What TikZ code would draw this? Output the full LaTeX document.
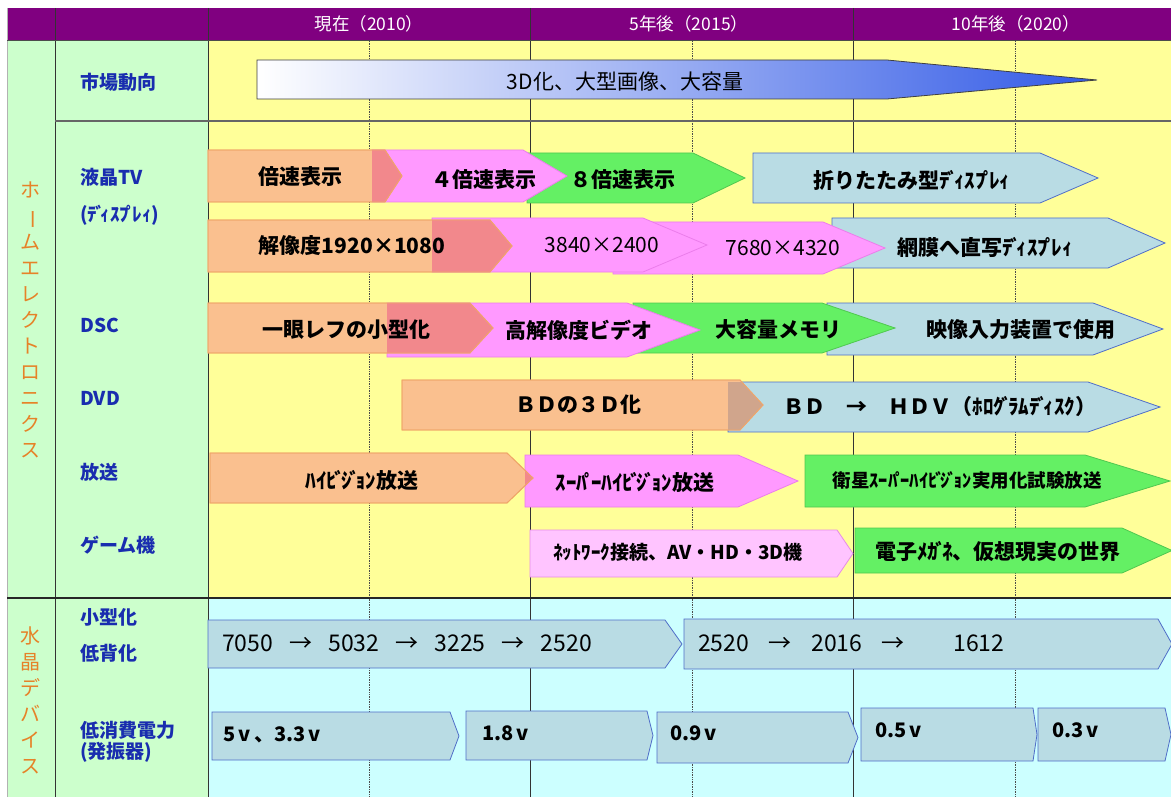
\documentclass[tikz,border=0pt]{standalone}
\usepackage{fontspec}
\usepackage{graphicx}
\setmainfont{Noto Sans CJK JP}
\definecolor{hdr}{RGB}{128,0,128}
\definecolor{lgreen}{RGB}{204,255,204}
\definecolor{lyellow}{RGB}{255,255,153}
\definecolor{lcyan}{RGB}{204,255,255}
\definecolor{orf}{RGB}{250,192,143}
\definecolor{ord}{RGB}{240,165,105}
\definecolor{pkf}{RGB}{255,153,255}
\definecolor{pkd}{RGB}{235,125,235}
\definecolor{lpkf}{RGB}{255,196,255}
\definecolor{lpkd}{RGB}{230,140,230}
\definecolor{grf}{RGB}{100,240,100}
\definecolor{grd}{RGB}{80,200,80}
\definecolor{blf}{RGB}{185,220,228}
\definecolor{bld}{RGB}{80,110,200}
\definecolor{salm}{RGB}{242,136,140}
\definecolor{tanov}{RGB}{208,165,140}
\definecolor{lbl}{RGB}{25,45,175}
\definecolor{lor}{RGB}{230,130,40}
\definecolor{arrblue}{RGB}{50,90,230}
\newcommand\barpath[5]{(#1,#2) -- (#3,#2) -- (#4,{(#2+#5)/2}) -- (#3,#5) -- (#1,#5) -- cycle}
\newcommand\dk{\kern-.12emﾞ\kern-.2em}
\newcommand\hk{\kern-.12emﾟ\kern-.2em}
\newcommand\arr[1]{\hspace{#1}→\hspace{#1}}
\tikzset{
  orbar/.style={fill=orf,draw=ord,line width=0.8pt},
  pkbar/.style={fill=pkf,draw=pkd,line width=0.8pt},
  lpkbar/.style={fill=lpkf,draw=lpkd,line width=0.8pt},
  grbar/.style={fill=grf,draw=grd,line width=0.8pt},
  blbar/.style={fill=blf,draw=bld,line width=0.8pt},
  bt/.style={font=\bfseries\fontsize{21}{25}\selectfont,text=black,inner sep=0pt},
  rt/.style={font=\fontsize{21}{25}\selectfont,text=black,inner sep=0pt},
  numt/.style={font=\fontsize{23}{26}\selectfont,text=black,inner sep=0pt,anchor=west},
  volt/.style={font=\bfseries\fontsize{20}{23}\selectfont,text=black,inner sep=0pt,anchor=west},
  lab/.style={font=\bfseries\fontsize{19}{22}\selectfont,text=lbl,inner sep=0pt,anchor=west},
  hdt/.style={font=\fontsize{17.5}{20}\selectfont,text=white,inner sep=0pt},
  vert/.style={font=\fontsize{20}{26}\selectfont,text=lor,inner sep=0pt,align=center},
  grid/.style={black!80,line width=0.8pt},
  dots/.style={black!70,densely dotted,line width=0.7pt}
}
\begin{document}
\begin{tikzpicture}[x=1pt,y=-1pt]
\useasboundingbox (0,0) rectangle (1171,797);
\clip (0,0) rectangle (1171,797);
% backgrounds
\fill[white] (0,0) rectangle (1171,797);
\fill[hdr] (7,8) rectangle (1171,41);
\fill[lgreen] (7,41) rectangle (208,797);
\fill[lyellow] (208,41) rectangle (1171,598);
\fill[lcyan] (208,598) rectangle (1171,797);
% grid lines
\draw[gray!60,line width=0.6pt] (7,8) -- (7,797);
\foreach \x in {55,208,530,853} \draw[grid] (\x,8) -- (\x,797);
\foreach \x in {369,692,1015} \draw[dots] (\x,41) -- (\x,797);
\draw[black!70,line width=1pt] (7,41) -- (1171,41);
\draw[black!60,line width=1.2pt] (55,121) -- (1171,121);
\draw[black!85,line width=1.2pt] (7,598) -- (1171,598);
% header texts
\node[hdt] (h1) at (369,24) {現在（2010）};
\node[hdt] (h2) at (689,24) {5年後（2015）};
\node[hdt] (h3) at (1016,24) {10年後（2020）};
% section labels
\node[vert] (s1) at (30,320) {ホ\\\rotatebox[origin=c]{-90}{ー}\\ム\\エ\\レ\\ク\\ト\\ロ\\ニ\\ク\\ス};
\node[vert] (s2) at (30,700) {水\\晶\\デ\\バ\\イ\\ス};
% row labels
\node[lab] (l1) at (80,82) {市場動向};
\node[lab] (l2) at (80,177) {液晶TV};
\node[lab] (l3) at (80,215) {(ﾃ\dk{}ｨｽﾌ\hk{}ﾚｨ)};
\node[lab] (l4) at (80,325) {DSC};
\node[lab] (l5) at (80,398) {DVD};
\node[lab] (l6) at (80,472) {放送};
\node[lab] (l7) at (80,545) {ゲーム機};
\node[lab] (l8) at (80,617) {小型化};
\node[lab] (l9) at (80,653) {低背化};
\node[lab] (l10) at (80,730) {低消費電力};
\node[lab] (l11) at (80,752) {(発振器)};
% market arrow
\shade[left color=white,right color=arrblue,draw=black!75,line width=0.8pt]
  (257,60) -- (887,60) -- (1097,80) -- (887,99) -- (257,99) -- cycle;
\node[rt] (m1) at (625,82) {3D化、大型画像、大容量};
% LCD row 1
\filldraw[blbar] \barpath{753}{153}{1040}{1098}{203};
\filldraw[grbar] \barpath{527}{153}{693}{745}{203};
\filldraw[pkbar] \barpath{372}{150}{523}{567}{202};
\filldraw[orbar] \barpath{208}{150}{385}{402}{202};
\begin{scope}\clip \barpath{372}{150}{523}{567}{202}; \fill[salm] \barpath{208}{150}{385}{402}{202};\end{scope}
\draw[ord,line width=0.8pt] \barpath{208}{150}{385}{402}{202};
\node[bt] (a1) at (300,177) {倍速表示};
\node[bt] (a2) at (484,180) {４倍速表示};
\node[bt] (a3) at (623,180) {８倍速表示};
\node[bt] (a4) at (912,180) {折りたたみ型ﾃ\dk{}ｨｽﾌ\hk{}ﾚｨ};
% LCD row 2
\filldraw[blbar] \barpath{832}{218}{1108}{1165}{268};
\filldraw[pkbar] \barpath{613}{222}{823}{885}{274};
\filldraw[pkbar] \barpath{432}{218}{643}{707}{272};
\filldraw[orbar] \barpath{208}{220}{490}{512}{272};
\begin{scope}\clip \barpath{432}{218}{643}{707}{272}; \fill[salm] \barpath{208}{220}{490}{512}{272};\end{scope}
\draw[ord,line width=0.8pt] \barpath{208}{220}{490}{512}{272};
\node[bt] (b1) at (352,246) {解像度1920×1080};
\node[rt] (b2) at (602,245) {3840×2400};
\node[rt] (b3) at (783,248) {7680×4320};
\node[bt] (b4) at (985,247) {網膜へ直写ﾃ\dk{}ｨｽﾌ\hk{}ﾚｨ};
% DSC row
\filldraw[blbar] \barpath{827}{303}{1093}{1163}{355};
\filldraw[grbar] \barpath{633}{303}{822}{895}{353};
\filldraw[pkbar] \barpath{387}{303}{627}{700}{357};
\filldraw[orbar] \barpath{208}{303}{470}{493}{353};
\begin{scope}\clip \barpath{387}{303}{627}{700}{357}; \fill[salm] \barpath{208}{303}{470}{493}{353};\end{scope}
\draw[ord,line width=0.8pt] \barpath{208}{303}{470}{493}{353};
\node[bt] (c1) at (346,330) {一眼レフの小型化};
\node[bt] (c2) at (579,330) {高解像度ビデオ};
\node[bt] (c3) at (778,330) {大容量メモリ};
\node[bt] (c4) at (1021,330) {映像入力装置で使用};
% DVD row
\filldraw[blbar] \barpath{728}{382}{1088}{1160}{432};
\filldraw[orbar] \barpath{402}{380}{740}{763}{430};
\begin{scope}\clip \barpath{728}{382}{1088}{1160}{432}; \fill[tanov] \barpath{402}{380}{740}{763}{430};\end{scope}
\draw[ord,line width=0.8pt] \barpath{402}{380}{740}{763}{430};
\node[bt] (d1) at (578,405) {ＢＤの３Ｄ化};
\node[bt] (d2) at (940,407) {ＢＤ　→　ＨＤＶ（ﾎﾛｸ\dk{}ﾗﾑﾃ\dk{}ｨｽｸ）};
% broadcast row
\filldraw[grbar] \barpath{805}{455}{1085}{1170}{507};
\filldraw[pkbar] \barpath{525}{455}{738}{798}{507};
\filldraw[orbar] \barpath{210}{453}{507}{533}{503};
\begin{scope}\clip \barpath{525}{455}{738}{798}{507}; \fill[salm] \barpath{210}{453}{507}{533}{503};\end{scope}
\draw[ord,line width=0.8pt] \barpath{210}{453}{507}{533}{503};
\node[bt] (e1) at (362,480) {ﾊｲﾋ\dk{}ｼ\dk{}ｮﾝ放送};
\node[bt] (e2) at (635,482) {ｽｰﾊ\hk{}ｰﾊｲﾋ\dk{}ｼ\dk{}ｮﾝ放送};
\node[bt,font=\bfseries\fontsize{18.5}{22}\selectfont] (e3) at (967,480) {衛星ｽｰﾊ\hk{}ｰﾊｲﾋ\dk{}ｼ\dk{}ｮﾝ実用化試験放送};
% game row
\filldraw[grbar] \barpath{855}{528}{1122}{1172}{573};
\filldraw[lpkbar] \barpath{530}{530}{837}{853}{577};
\node[bt,font=\bfseries\fontsize{19}{22}\selectfont] (f1) at (678,552) {ﾈｯﾄﾜｰｸ接続、AV・HD・3D機};
\node[bt] (f2) at (998,552) {電子ﾒｶ\dk{}ﾈ、仮想現実の世界};
% crystal: size
\filldraw[blbar] \barpath{208}{620}{665}{682}{668};
\filldraw[blbar] \barpath{684}{619}{1158}{1172}{669};
\node[numt] (g1) at (222,643) {7050\arr{0.7em}5032\arr{0.7em}3225\arr{0.7em}2520};
\node[numt] (g2) at (698,643) {2520\arr{0.85em}2016\hspace{0.85em}→\hspace{2.1em}1612};
% crystal: power
\filldraw[blbar] \barpath{212}{712}{450}{459}{760};
\filldraw[blbar] \barpath{466}{711}{647}{653}{760};
\filldraw[blbar] \barpath{657}{712}{848}{858}{763};
\filldraw[blbar] \barpath{861}{708}{1033}{1037}{761};
\filldraw[blbar] \barpath{1038}{708}{1165}{1171}{761};
\node[volt] (v1) at (223,735) {5\,v\,、3.3\,v};
\node[volt] (v2) at (482,733) {1.8\,v};
\node[volt] (v3) at (670,733) {0.9\,v};
\node[volt] (v4) at (875,730) {0.5\,v};
\node[volt] (v5) at (1052,730) {0.3\,v};
\end{tikzpicture}
\end{document}
